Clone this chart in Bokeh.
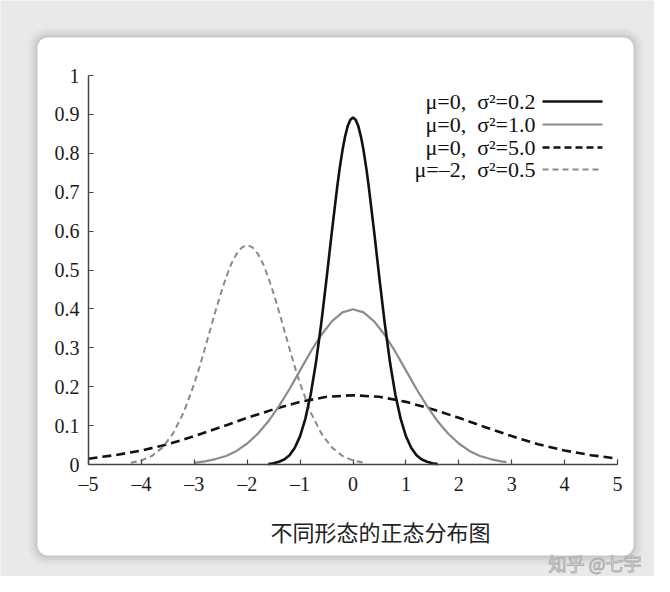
from bokeh.plotting import figure
from bokeh.models import Range1d, FixedTicker, Label, BoxAnnotation
from bokeh.embed import file_html
from bokeh.resources import INLINE

# ---- data ----
xa = [-1.6, -1.5, -1.4, -1.3, -1.2, -1.1, -1.0, -0.9, -0.8, -0.7, -0.6, -0.5, -0.4, -0.3, -0.25, -0.2, -0.15, -0.1, -0.05,
      0.0, 0.05, 0.1, 0.15, 0.2, 0.25, 0.3, 0.4, 0.5, 0.6, 0.7, 0.8, 0.9, 1.0, 1.1, 1.2, 1.3, 1.4, 1.5, 1.6]
ya = [0.001, 0.003, 0.007, 0.013, 0.024, 0.043, 0.073, 0.118, 0.180, 0.262, 0.363, 0.478, 0.598, 0.712, 0.763, 0.807, 0.843, 0.870, 0.886,
      0.892, 0.886, 0.870, 0.843, 0.807, 0.763, 0.712, 0.598, 0.478, 0.363, 0.262, 0.180, 0.118, 0.073, 0.043, 0.024, 0.013, 0.007, 0.003, 0.001]

xb = [-3.0, -2.8, -2.6, -2.4, -2.2, -2.0, -1.8, -1.6, -1.4, -1.2, -1.0, -0.8, -0.6, -0.4, -0.2,
      0.0, 0.2, 0.4, 0.6, 0.8, 1.0, 1.2, 1.4, 1.6, 1.8, 2.0, 2.2, 2.4, 2.6, 2.8, 2.9]
yb = [0.004, 0.008, 0.014, 0.022, 0.035, 0.054, 0.079, 0.111, 0.150, 0.194, 0.242, 0.290, 0.333, 0.368, 0.391,
      0.399, 0.391, 0.368, 0.333, 0.290, 0.242, 0.194, 0.150, 0.111, 0.079, 0.054, 0.035, 0.022, 0.014, 0.008, 0.006]

xc = [-5.0, -4.5, -4.0, -3.5, -3.0, -2.5, -2.0, -1.5, -1.0, -0.5, 0.0, 0.5, 1.0, 1.5, 2.0, 2.5, 3.0, 3.5, 4.0, 4.5, 5.0]
yc = [0.015, 0.024, 0.036, 0.052, 0.073, 0.096, 0.120, 0.142, 0.161, 0.174, 0.178, 0.174, 0.161, 0.142, 0.120, 0.096, 0.073, 0.052, 0.036, 0.024, 0.015]

xd = [-4.2, -4.0, -3.8, -3.6, -3.4, -3.2, -3.0, -2.9, -2.8, -2.7, -2.6, -2.5, -2.4, -2.3, -2.2, -2.1, -2.0,
      -1.9, -1.8, -1.7, -1.6, -1.5, -1.4, -1.3, -1.2, -1.1, -1.0, -0.8, -0.6, -0.4, -0.2, 0.0, 0.2]
yd = [0.0045, 0.0103, 0.022, 0.044, 0.080, 0.134, 0.208, 0.251, 0.298, 0.346, 0.394, 0.439, 0.481, 0.516, 0.542, 0.558, 0.564,
      0.558, 0.542, 0.516, 0.481, 0.439, 0.394, 0.346, 0.298, 0.251, 0.208, 0.134, 0.080, 0.044, 0.022, 0.0103, 0.0045]

legend_labels = ["μ=0,\u2002σ²=0.2", "μ=0,\u2002σ²=1.0", "μ=0,\u2002σ²=5.0", "μ=–2,\u2002σ²=0.5"]
x_ticks = [-5, -4, -3, -2, -1, 0, 1, 2, 3, 4, 5]
x_tick_labels = ["–5", "–4", "–3", "–2", "–1", "0", "1", "2", "3", "4", "5"]
y_ticks = [0, 0.1, 0.2, 0.3, 0.4, 0.5, 0.6, 0.7, 0.8, 0.9, 1.0]
y_tick_labels = ["0", "0.1", "0.2", "0.3", "0.4", "0.5", "0.6", "0.7", "0.8", "0.9", "1"]
title_text = "不同形态的正态分布图"
watermark = "知乎 @七宇"

SERIF = "Liberation Serif"
CJK = "Noto Sans CJK SC"

# pixel geometry of the picture: x=-5 -> 88px, x=5 -> 617px ; y=0 -> 464px, y=1 -> 75px
W, H = 654, 576
XPX = 52.9
YPX = 389.0
x0 = -5 - 88 / XPX
x1 = 5 + (W - 617) / XPX
y1 = 1 + 75 / YPX
y0 = -(H - 464) / YPX

def px_x(px):
    return -5 + (px - 88) / XPX

def px_y(py):
    return (464 - py) / YPX

p = figure(frame_width=W, frame_height=H, min_border=0,
           x_range=Range1d(x0, x1), y_range=Range1d(y0, y1),
           output_backend="svg", toolbar_location=None)
p.border_fill_color = "#e9e9e9"
p.background_fill_color = "#e9e9e9"
p.outline_line_color = None
p.grid.visible = False

# card and its soft shadow
cl, cr, ct, cb = px_x(37), px_x(633), px_y(37), px_y(555)
for grow, alpha in [(10, 0.02), (7, 0.03), (4, 0.04), (2, 0.05)]:
    p.add_layout(BoxAnnotation(left=cl - grow / XPX, right=cr + grow / XPX, top=ct + grow / YPX, bottom=cb - grow / YPX,
                               fill_color="black", fill_alpha=alpha, line_color=None, border_radius=10 + grow,
                               level="underlay"))
p.add_layout(BoxAnnotation(left=cl, right=cr, top=ct, bottom=cb,
                           fill_color="white", fill_alpha=1.0, line_color=None, border_radius=10,
                           level="underlay"))

# axes, placed inside the frame
p.xaxis.fixed_location = 0
p.yaxis.fixed_location = -5
p.xaxis.bounds = (-5, 5)
p.yaxis.bounds = (0, 1)
for ax in (p.xaxis[0], p.yaxis[0]):
    ax.axis_line_color = "#444444"
    ax.axis_line_width = 1.5
    ax.major_tick_line_color = "#444444"
    ax.major_tick_line_width = 1.2
    ax.major_tick_in = 5
    ax.major_tick_out = 0
    ax.minor_tick_line_color = None
    ax.major_label_text_font = SERIF
    ax.major_label_text_font_size = "20px"
    ax.major_label_text_color = "#1a1a1a"

p.xaxis.ticker = FixedTicker(ticks=x_ticks)
p.xaxis.major_label_overrides = {t: s for t, s in zip(x_ticks, x_tick_labels)}
p.xaxis.major_label_standoff = 8
p.yaxis.ticker = FixedTicker(ticks=y_ticks)
p.yaxis.major_label_overrides = {t: s for t, s in zip(y_ticks, y_tick_labels)}
p.yaxis.major_label_standoff = 9

# curves
p.line(xc, yc, line_color="#111111", line_width=2.6, line_dash="9 5")
p.line(xd, yd, line_color="#8a8a8a", line_width=2.0, line_dash="6 4")
p.line(xb, yb, line_color="#8c8c8c", line_width=2.2)
p.line(xa, ya, line_color="#111111", line_width=2.6)

# legend (text on the left, sample on the right)
styles = [("#111111", 2.6, "solid"), ("#8c8c8c", 2.2, "solid"), ("#111111", 2.6, "7 4"), ("#8a8a8a", 2.0, "6 4")]
rows = [px_y(101), px_y(124), px_y(147), px_y(169)]
for lab, (col, w, dash), yy in zip(legend_labels, styles, rows):
    p.add_layout(Label(x=px_x(535), y=yy, text=lab, text_align="right", text_baseline="middle",
                       text_font=SERIF, text_font_size="22px", text_color="#111111"))
    p.line([px_x(542), px_x(602)], [yy, yy], line_color=col, line_width=w, line_dash=dash)

# caption below the axis
p.add_layout(Label(x=px_x(380), y=px_y(530), text=title_text, text_align="center", text_baseline="middle",
                   text_font=CJK, text_font_size="22px", text_color="#222222"))

# watermark outside the card
p.add_layout(Label(x=px_x(548), y=px_y(562), text=watermark,
                   text_align="left", text_baseline="middle", text_font=CJK, text_font_size="18px",
                   text_color="#f6f6f6", text_outline_color="#b0b0b0"))

open("out.html", "w").write(file_html(p, INLINE))
